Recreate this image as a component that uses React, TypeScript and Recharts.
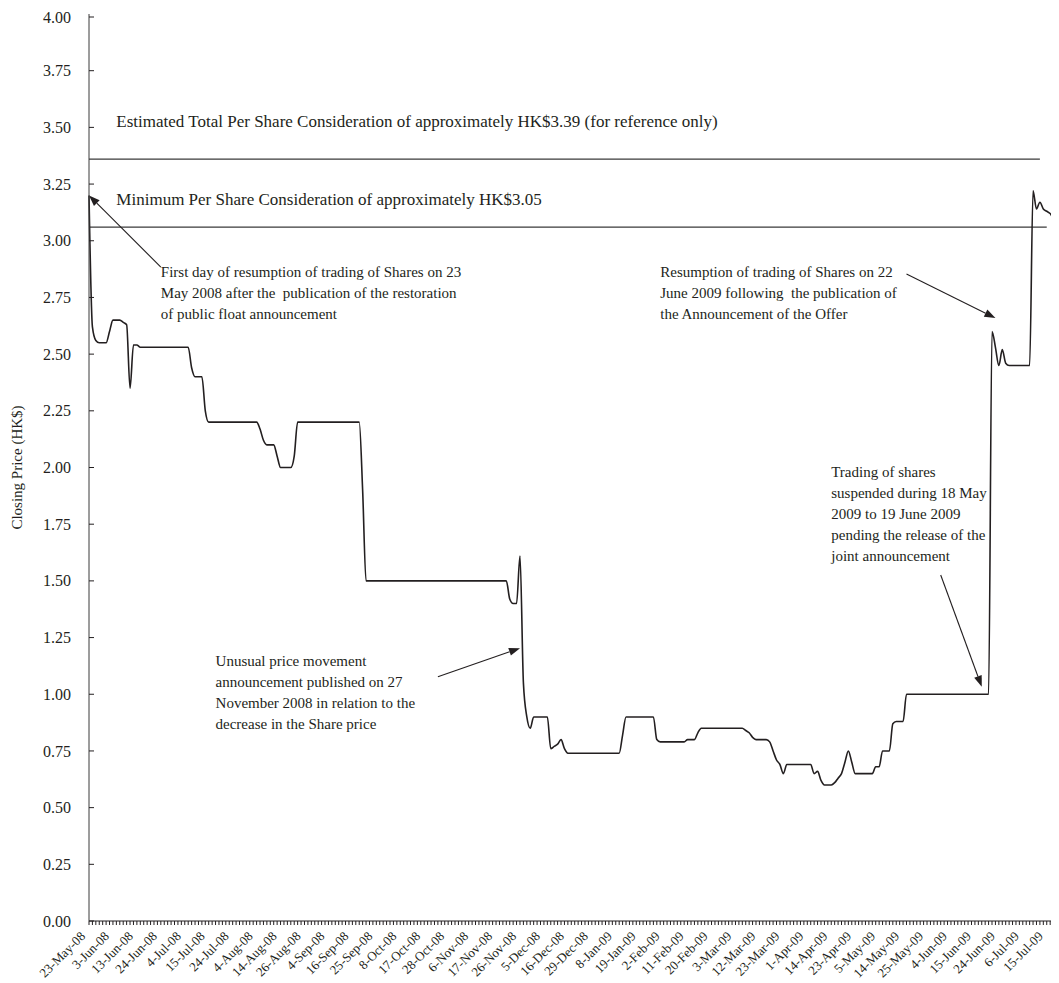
import React from 'react';
import { LineChart, Line, XAxis, YAxis, ReferenceLine, ReferenceDot } from 'recharts';

// Hong Kong trading days, 23 May 2008 - 20 July 2009
const dates = [
  "23-May-08","26-May-08","27-May-08","28-May-08","29-May-08","30-May-08",
  "2-Jun-08","3-Jun-08","4-Jun-08","5-Jun-08","6-Jun-08","10-Jun-08","11-Jun-08","12-Jun-08","13-Jun-08","16-Jun-08","17-Jun-08","18-Jun-08","19-Jun-08","20-Jun-08","23-Jun-08","24-Jun-08","25-Jun-08","26-Jun-08","27-Jun-08","30-Jun-08",
  "2-Jul-08","3-Jul-08","4-Jul-08","7-Jul-08","8-Jul-08","9-Jul-08","10-Jul-08","11-Jul-08","14-Jul-08","15-Jul-08","16-Jul-08","17-Jul-08","18-Jul-08","21-Jul-08","22-Jul-08","23-Jul-08","24-Jul-08","25-Jul-08","28-Jul-08","29-Jul-08","30-Jul-08","31-Jul-08",
  "1-Aug-08","4-Aug-08","5-Aug-08","7-Aug-08","8-Aug-08","11-Aug-08","12-Aug-08","13-Aug-08","14-Aug-08","15-Aug-08","18-Aug-08","19-Aug-08","20-Aug-08","21-Aug-08","25-Aug-08","26-Aug-08","27-Aug-08","28-Aug-08","29-Aug-08",
  "1-Sep-08","2-Sep-08","3-Sep-08","4-Sep-08","5-Sep-08","8-Sep-08","9-Sep-08","10-Sep-08","11-Sep-08","12-Sep-08","16-Sep-08","17-Sep-08","18-Sep-08","19-Sep-08","22-Sep-08","23-Sep-08","24-Sep-08","25-Sep-08","26-Sep-08","29-Sep-08","30-Sep-08",
  "2-Oct-08","3-Oct-08","6-Oct-08","8-Oct-08","9-Oct-08","10-Oct-08","13-Oct-08","14-Oct-08","15-Oct-08","16-Oct-08","17-Oct-08","20-Oct-08","21-Oct-08","22-Oct-08","23-Oct-08","24-Oct-08","27-Oct-08","28-Oct-08","29-Oct-08","30-Oct-08","31-Oct-08",
  "3-Nov-08","4-Nov-08","5-Nov-08","6-Nov-08","7-Nov-08","10-Nov-08","11-Nov-08","12-Nov-08","13-Nov-08","14-Nov-08","17-Nov-08","18-Nov-08","19-Nov-08","20-Nov-08","21-Nov-08","24-Nov-08","25-Nov-08","26-Nov-08","27-Nov-08","28-Nov-08",
  "1-Dec-08","2-Dec-08","3-Dec-08","4-Dec-08","5-Dec-08","8-Dec-08","9-Dec-08","10-Dec-08","11-Dec-08","12-Dec-08","15-Dec-08","16-Dec-08","17-Dec-08","18-Dec-08","19-Dec-08","22-Dec-08","23-Dec-08","24-Dec-08","29-Dec-08","30-Dec-08","31-Dec-08",
  "2-Jan-09","5-Jan-09","6-Jan-09","7-Jan-09","8-Jan-09","9-Jan-09","12-Jan-09","13-Jan-09","14-Jan-09","15-Jan-09","16-Jan-09","19-Jan-09","20-Jan-09","21-Jan-09","22-Jan-09","23-Jan-09","29-Jan-09","30-Jan-09",
  "2-Feb-09","3-Feb-09","4-Feb-09","5-Feb-09","6-Feb-09","9-Feb-09","10-Feb-09","11-Feb-09","12-Feb-09","13-Feb-09","16-Feb-09","17-Feb-09","18-Feb-09","19-Feb-09","20-Feb-09","23-Feb-09","24-Feb-09","25-Feb-09","26-Feb-09","27-Feb-09",
  "2-Mar-09","3-Mar-09","4-Mar-09","5-Mar-09","6-Mar-09","9-Mar-09","10-Mar-09","11-Mar-09","12-Mar-09","13-Mar-09","16-Mar-09","17-Mar-09","18-Mar-09","19-Mar-09","20-Mar-09","23-Mar-09","24-Mar-09","25-Mar-09","26-Mar-09","27-Mar-09","30-Mar-09","31-Mar-09",
  "1-Apr-09","2-Apr-09","3-Apr-09","6-Apr-09","7-Apr-09","8-Apr-09","9-Apr-09","14-Apr-09","15-Apr-09","16-Apr-09","17-Apr-09","20-Apr-09","21-Apr-09","22-Apr-09","23-Apr-09","24-Apr-09","27-Apr-09","28-Apr-09","29-Apr-09","30-Apr-09",
  "4-May-09","5-May-09","6-May-09","7-May-09","8-May-09","11-May-09","12-May-09","13-May-09","14-May-09","15-May-09","18-May-09","19-May-09","20-May-09","21-May-09","22-May-09","25-May-09","26-May-09","27-May-09","29-May-09",
  "1-Jun-09","2-Jun-09","3-Jun-09","4-Jun-09","5-Jun-09","8-Jun-09","9-Jun-09","10-Jun-09","11-Jun-09","12-Jun-09","15-Jun-09","16-Jun-09","17-Jun-09","18-Jun-09","19-Jun-09","22-Jun-09","23-Jun-09","24-Jun-09","25-Jun-09","26-Jun-09","29-Jun-09","30-Jun-09",
  "2-Jul-09","3-Jul-09","6-Jul-09","7-Jul-09","8-Jul-09","9-Jul-09","10-Jul-09","13-Jul-09","14-Jul-09","15-Jul-09","16-Jul-09","17-Jul-09","20-Jul-09",
];

// Closing price (HK$) per trading day
const closingPrices = [
  3.20, 2.62, 2.56, 2.55, 2.55, 2.55, 2.60, 2.65, 2.65, 2.65,
  2.64, 2.63, 2.35, 2.54, 2.54, 2.53, 2.53, 2.53, 2.53, 2.53,
  2.53, 2.53, 2.53, 2.53, 2.53, 2.53, 2.53, 2.53, 2.53, 2.53,
  2.44, 2.40, 2.40, 2.40, 2.25, 2.20, 2.20, 2.20, 2.20, 2.20,
  2.20, 2.20, 2.20, 2.20, 2.20, 2.20, 2.20, 2.20, 2.20, 2.20,
  2.17, 2.12, 2.10, 2.10, 2.10, 2.05, 2.00, 2.00, 2.00, 2.00,
  2.05, 2.20, 2.20, 2.20, 2.20, 2.20, 2.20, 2.20, 2.20, 2.20,
  2.20, 2.20, 2.20, 2.20, 2.20, 2.20, 2.20, 2.20, 2.20, 2.20,
  1.90, 1.50, 1.50, 1.50, 1.50, 1.50, 1.50, 1.50, 1.50, 1.50,
  1.50, 1.50, 1.50, 1.50, 1.50, 1.50, 1.50, 1.50, 1.50, 1.50,
  1.50, 1.50, 1.50, 1.50, 1.50, 1.50, 1.50, 1.50, 1.50, 1.50,
  1.50, 1.50, 1.50, 1.50, 1.50, 1.50, 1.50, 1.50, 1.50, 1.50,
  1.50, 1.50, 1.50, 1.42, 1.40, 1.40, 1.61, 1.05, 0.90, 0.85,
  0.90, 0.90, 0.90, 0.90, 0.90, 0.76, 0.77, 0.78, 0.80, 0.76,
  0.74, 0.74, 0.74, 0.74, 0.74, 0.74, 0.74, 0.74, 0.74, 0.74,
  0.74, 0.74, 0.74, 0.74, 0.74, 0.74, 0.82, 0.90, 0.90, 0.90,
  0.90, 0.90, 0.90, 0.90, 0.90, 0.90, 0.80, 0.79, 0.79, 0.79,
  0.79, 0.79, 0.79, 0.79, 0.79, 0.80, 0.80, 0.80, 0.83, 0.85,
  0.85, 0.85, 0.85, 0.85, 0.85, 0.85, 0.85, 0.85, 0.85, 0.85,
  0.85, 0.85, 0.84, 0.83, 0.81, 0.80, 0.80, 0.80, 0.80, 0.79,
  0.75, 0.71, 0.69, 0.65, 0.69, 0.69, 0.69, 0.69, 0.69, 0.69,
  0.69, 0.69, 0.65, 0.66, 0.62, 0.60, 0.60, 0.60, 0.61, 0.63,
  0.65, 0.70, 0.75, 0.70, 0.65, 0.65, 0.65, 0.65, 0.65, 0.65,
  0.68, 0.68, 0.75, 0.75, 0.75, 0.87, 0.88, 0.88, 0.88, 1.00,
  1.00, 1.00, 1.00, 1.00, 1.00, 1.00, 1.00, 1.00, 1.00, 1.00,
  1.00, 1.00, 1.00, 1.00, 1.00, 1.00, 1.00, 1.00, 1.00, 1.00,
  1.00, 1.00, 1.00, 1.00, 2.60, 2.53, 2.45, 2.52, 2.46, 2.45,
  2.45, 2.45, 2.45, 2.45, 2.45, 2.45, 3.22, 3.14, 3.17, 3.14,
  3.13, 3.12, 3.10, 3.11,
];

const xTickLabels = [
  "23-May-08","3-Jun-08","13-Jun-08","24-Jun-08","4-Jul-08","15-Jul-08","24-Jul-08","4-Aug-08","14-Aug-08","26-Aug-08",
  "4-Sep-08","16-Sep-08","25-Sep-08","8-Oct-08","17-Oct-08","28-Oct-08","6-Nov-08","17-Nov-08","26-Nov-08","5-Dec-08",
  "16-Dec-08","29-Dec-08","8-Jan-09","19-Jan-09","2-Feb-09","11-Feb-09","20-Feb-09","3-Mar-09","12-Mar-09","23-Mar-09",
  "1-Apr-09","14-Apr-09","23-Apr-09","5-May-09","14-May-09","25-May-09","4-Jun-09","15-Jun-09","24-Jun-09","6-Jul-09","15-Jul-09",
];

const yTicks = [0, 0.25, 0.5, 0.75, 1, 1.25, 1.5, 1.75, 2, 2.25, 2.5, 2.75, 3, 3.25, 3.5, 3.75, 4];

// Horizontal consideration lines (level as drawn, end date)
const considerationLines = [
  { level: 3.36, until: "13-Jul-09" },
  { level: 3.06, until: "15-Jul-09" },
];

// Text annotations: anchor (date, value) = left end of first baseline
const textBlocks = [
  { date: "4-Jun-08", value: 3.50, size: 17, lines: ["Estimated Total Per Share Consideration of approximately HK$3.39 (for reference only)"] },
  { date: "4-Jun-08", value: 3.158, size: 17, lines: ["Minimum Per Share Consideration of approximately HK$3.05"] },
  { date: "24-Jun-08", value: 2.84, size: 15, lines: [
    "First day of resumption of trading of Shares on 23",
    "May 2008 after the  publication of the restoration",
    "of public float announcement",
  ] },
  { date: "30-Jan-09", value: 2.84, size: 15, lines: [
    "Resumption of trading of Shares on 22",
    "June 2009 following  the publication of",
    "the Announcement of the Offer",
  ] },
  { date: "14-Apr-09", value: 1.958, size: 15, lines: [
    "Trading of shares",
    "suspended during 18 May",
    "2009 to 19 June 2009",
    "pending the release of the",
    "joint announcement",
  ] },
  { date: "17-Jul-08", value: 1.125, size: 15, lines: [
    "Unusual price movement",
    "announcement published on 27",
    "November 2008 in relation to the",
    "decrease in the Share price",
  ] },
];

// Arrows: from (date, value) to (date, value)
const arrows = [
  { from: ["24-Jun-08", 2.884], to: ["23-May-08", 3.20] },
  { from: ["15-May-09", 2.853], to: ["23-Jun-09", 2.659] },
  { from: ["1-Jun-09", 1.526], to: ["17-Jun-09", 1.033] },
  { from: ["23-Oct-08", 1.077], to: ["26-Nov-08", 1.203] },
];

const data = dates.map((date, i) => ({ date, price: closingPrices[i] }));

const FONT = '"Liberation Serif", "Times New Roman", Times, serif';
const INK = '#231f20';
const labelSet = new Set(xTickLabels);

const XTick = (props: any) => {
  const { x, y, payload } = props;
  if (!labelSet.has(payload.value)) return <g />;
  const ax = x - 3;
  const ay = y + 12;
  return (
    <text x={ax} y={ay} transform={`rotate(-45 ${ax} ${ay})`} textAnchor="end"
      fontFamily={FONT} fontSize={13} fill={INK}>
      {payload.value}
    </text>
  );
};

const YTick = (props: any) => {
  const { x, y, payload } = props;
  return (
    <g>
      <line x1={x} y1={y} x2={x + 5} y2={y} stroke={INK} strokeWidth={1} />
      <text x={x - 18} y={y} dy="0.35em" textAnchor="end" fontFamily={FONT} fontSize={16} fill={INK}>
        {Number(payload.value).toFixed(2)}
      </text>
    </g>
  );
};

const YLabel = (p: any) => {
  const vb = p.viewBox || { x: 0, y: 0, width: 81, height: 907 };
  const cx = vb.x + 9;
  const cy = vb.y + vb.height / 2;
  return (
    <text x={cx} y={cy} transform={`rotate(-90 ${cx} ${cy})`} textAnchor="middle" dy="0.35em"
      fontFamily={FONT} fontSize={15} fill={INK}>
      Closing Price (HK$)
    </text>
  );
};

const ArrowShape = (p: any) => {
  const { x1, y1, x2, y2 } = p;
  const ang = Math.atan2(y2 - y1, x2 - x1);
  const len = 11;
  const hw = 4;
  const bx = x2 - len * Math.cos(ang);
  const by = y2 - len * Math.sin(ang);
  const nx = -Math.sin(ang) * hw;
  const ny = Math.cos(ang) * hw;
  return (
    <g>
      <line x1={x1} y1={y1} x2={bx} y2={by} stroke={INK} strokeWidth={1.1} />
      <polygon points={`${x2},${y2} ${bx + nx},${by + ny} ${bx - nx},${by - ny}`} fill={INK} />
    </g>
  );
};

const makeTextShape = (lines: string[], size: number) => (p: any) => (
  <text x={p.cx} y={p.cy} fontFamily={FONT} fontSize={size} fill={INK} style={{ whiteSpace: 'pre' }}>
    {lines.map((l, i) => (
      <tspan key={i} x={p.cx} y={p.cy + i * 21}>{l}</tspan>
    ))}
  </text>
);

export default function App() {
  return (
    <div style={{ width: 1051, height: 975, background: '#fff' }}>
      <LineChart width={1051} height={975} data={data} margin={{ top: 6, right: 2, bottom: 0, left: 0 }}>
        <XAxis dataKey="date" interval={0} tickSize={4} tickMargin={0} height={62}
          stroke={INK} tick={<XTick />} tickLine={{ stroke: INK }} />
        <YAxis width={81} domain={[0, 4]} ticks={yTicks} type="number" tickSize={0} tickMargin={0}
          tickLine={false} stroke="#3a3a3a" tick={<YTick />} label={{ content: <YLabel /> }} />
        {considerationLines.map((l, i) => (
          <ReferenceLine key={`c${i}`} segment={[{ x: dates[0], y: l.level }, { x: l.until, y: l.level }]}
            stroke="#3a3a3a" strokeWidth={1.3} />
        ))}
        <Line dataKey="price" type="monotone" stroke={INK} strokeWidth={1.6} dot={false} activeDot={false}
          isAnimationActive={false} />
        {arrows.map((a, i) => (
          <ReferenceLine key={`a${i}`} segment={[{ x: a.from[0], y: a.from[1] }, { x: a.to[0], y: a.to[1] }]}
            shape={ArrowShape} />
        ))}
        {textBlocks.map((b, i) => (
          <ReferenceDot key={`t${i}`} x={b.date} y={b.value} r={1} ifOverflow="visible"
            shape={makeTextShape(b.lines, b.size)} />
        ))}
      </LineChart>
    </div>
  );
}
